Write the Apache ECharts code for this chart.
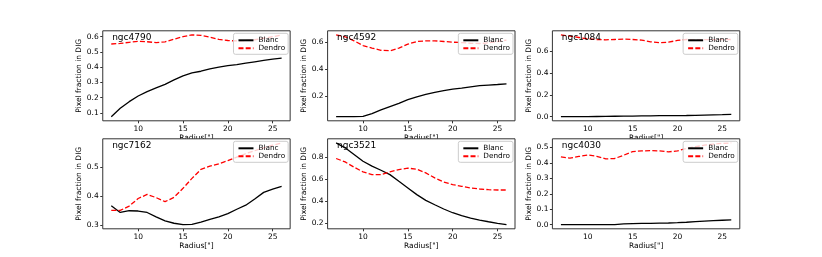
<!DOCTYPE html>
<html>
<head>
<meta charset="utf-8">
<script src="https://cdn.jsdelivr.net/npm/echarts@6/dist/echarts.min.js"></script>
<style>html,body{margin:0;padding:0;background:#fff}#c{width:822px;height:257px}</style>
</head>
<body>
<div id="c"></div>
<script>
var radius = [7,8,9,10,11,12,13,14,15,16,17,18,19,20,21,22,23,24,25,26];
var galaxies = ['ngc4790','ngc4592','ngc1084','ngc7162','ngc3521','ngc4030'];

var blanc_ngc4790  = [0.074,0.129,0.173,0.210,0.239,0.263,0.287,0.316,0.342,0.362,0.373,0.389,0.400,0.410,0.417,0.426,0.435,0.444,0.452,0.459];
var dendro_ngc4790 = [0.552,0.556,0.563,0.570,0.567,0.561,0.566,0.584,0.600,0.612,0.609,0.597,0.582,0.575,0.572,0.575,0.580,0.590,0.600,0.612];

var blanc_ngc4592  = [0.048,0.047,0.047,0.049,0.070,0.097,0.122,0.146,0.173,0.195,0.212,0.227,0.240,0.252,0.259,0.269,0.277,0.282,0.286,0.291];
var dendro_ngc4592 = [0.654,0.640,0.610,0.575,0.556,0.540,0.536,0.556,0.585,0.605,0.610,0.610,0.605,0.600,0.597,0.592,0.590,0.595,0.605,0.615];

var blanc_ngc1084  = [0.000,0.000,0.001,0.001,0.002,0.003,0.004,0.005,0.006,0.007,0.008,0.009,0.010,0.010,0.011,0.013,0.015,0.017,0.019,0.022];
var dendro_ngc1084 = [0.748,0.736,0.724,0.712,0.706,0.703,0.706,0.709,0.706,0.700,0.685,0.676,0.682,0.697,0.706,0.705,0.704,0.705,0.706,0.706];

var blanc_ngc7162  = [0.367,0.344,0.350,0.349,0.344,0.329,0.315,0.307,0.302,0.303,0.311,0.320,0.329,0.340,0.355,0.369,0.390,0.413,0.424,0.434];
var dendro_ngc7162 = [0.351,0.351,0.366,0.392,0.406,0.395,0.381,0.396,0.427,0.461,0.492,0.503,0.511,0.522,0.534,0.546,0.556,0.566,0.575,0.583];

var blanc_ngc3521  = [0.930,0.885,0.824,0.763,0.718,0.681,0.641,0.580,0.520,0.459,0.407,0.367,0.328,0.294,0.267,0.246,0.227,0.212,0.198,0.185];
var dendro_ngc3521 = [0.788,0.757,0.709,0.666,0.641,0.641,0.666,0.687,0.700,0.690,0.657,0.611,0.574,0.550,0.535,0.520,0.510,0.504,0.501,0.501];

var blanc_ngc4030  = [0.000,0.000,0.000,0.000,0.000,0.000,0.000,0.005,0.007,0.008,0.009,0.010,0.011,0.013,0.016,0.020,0.023,0.026,0.029,0.031];
var dendro_ngc4030 = [0.439,0.431,0.442,0.452,0.443,0.426,0.429,0.450,0.474,0.478,0.480,0.478,0.472,0.478,0.494,0.505,0.515,0.522,0.527,0.530];

var blancSets  = [blanc_ngc4790, blanc_ngc4592, blanc_ngc1084, blanc_ngc7162, blanc_ngc3521, blanc_ngc4030];
var dendroSets = [dendro_ngc4790, dendro_ngc4592, dendro_ngc1084, dendro_ngc7162, dendro_ngc3521, dendro_ngc4030];

var xTicks = [10,15,20,25];
var yTicks = [
  [0.1,0.2,0.3,0.4,0.5,0.6],
  [0.2,0.4,0.6],
  [0.0,0.2,0.4,0.6],
  [0.3,0.4,0.5],
  [0.2,0.4,0.6,0.8],
  [0.0,0.1,0.2,0.3,0.4,0.5]
];
var xName = 'Radius["]';
var yName = 'Pixel fraction in DIG';

var FONT = 'DejaVu Sans';
var colLeft = [102.75, 327.6, 552.4];
var rowTop = [30.8, 138.8];
var W = 187.4, H = 90;

function pair(a){ return radius.map(function(r,i){ return [r, a[i]]; }); }
function mmin(v){ return v.min - 0.05*(v.max - v.min); }
function mmax(v){ return v.max + 0.05*(v.max - v.min); }

var grids=[], xAxes=[], yAxes=[], series=[], legends=[], titles=[];
for (var k=0;k<6;k++){
  var c = k%3, r = Math.floor(k/3);
  var L = colLeft[c], T = rowTop[r];
  grids.push({left:L, top:T, width:W, height:H, show:true, backgroundColor:'#fff',
    borderColor:'#333', borderWidth:1, z:2});
  xAxes.push({type:'value', gridIndex:k, min:mmin, max:mmax, z:0,
    name:xName, nameLocation:'middle', nameGap:13,
    nameTextStyle:{fontFamily:FONT, fontSize:7.5, color:'#000'},
    axisLine:{show:false}, splitLine:{show:false},
    axisTick:{show:true, length:2.5, lineStyle:{color:'#333'}, customValues:xTicks},
    axisLabel:{fontFamily:FONT, fontSize:7.5, color:'#000', margin:4, customValues:xTicks,
      formatter:function(v){return String(v);}}
  });
  yAxes.push({type:'value', gridIndex:k, min:mmin, max:mmax, z:0,
    name:yName, nameLocation:'middle', nameGap:18,
    nameTextStyle:{fontFamily:FONT, fontSize:7.5, color:'#000'},
    axisLine:{show:false}, splitLine:{show:false},
    axisTick:{show:true, length:2.5, lineStyle:{color:'#333'}, customValues:yTicks[k]},
    axisLabel:{fontFamily:FONT, fontSize:7.5, color:'#000', margin:4, customValues:yTicks[k],
      formatter:function(v){return v.toFixed(1);}}
  });
  series.push({type:'line', name:'Blanc', xAxisIndex:k, yAxisIndex:k, data:pair(blancSets[k]),
    symbol:'none', z:3, lineStyle:{color:'#000', width:1.3}, itemStyle:{color:'#000'}});
  series.push({type:'line', name:'Dendro', xAxisIndex:k, yAxisIndex:k, data:pair(dendroSets[k]),
    symbol:'none', z:3, lineStyle:{color:'#ff0000', width:1.3, type:[5,2.2]}, itemStyle:{color:'#ff0000'}});
  legends.push({data:['Blanc','Dendro'], orient:'vertical', right:822-(L+W-2), top:T+2.5,
    backgroundColor:'rgba(255,255,255,0.8)', borderColor:'#ccc', borderWidth:1, borderRadius:2,
    padding:[3.5,3,2.5,4], itemGap:1, itemWidth:15, itemHeight:8, z:5,
    itemStyle:{opacity:0},
    textStyle:{fontFamily:FONT, fontSize:7.3, color:'#000'}});
  titles.push({text:galaxies[k], left:L+9.4, top:T+2, padding:0, z:6,
    textStyle:{fontFamily:FONT, fontSize:9, fontWeight:'normal', color:'#000'}});
}

var chart = echarts.init(document.getElementById('c'), null, {renderer:'canvas'});
chart.setOption({
  animation:false,
  backgroundColor:'#fff',
  title:titles, grid:grids, xAxis:xAxes, yAxis:yAxes, series:series, legend:legends
});
</script>
</body>
</html>
